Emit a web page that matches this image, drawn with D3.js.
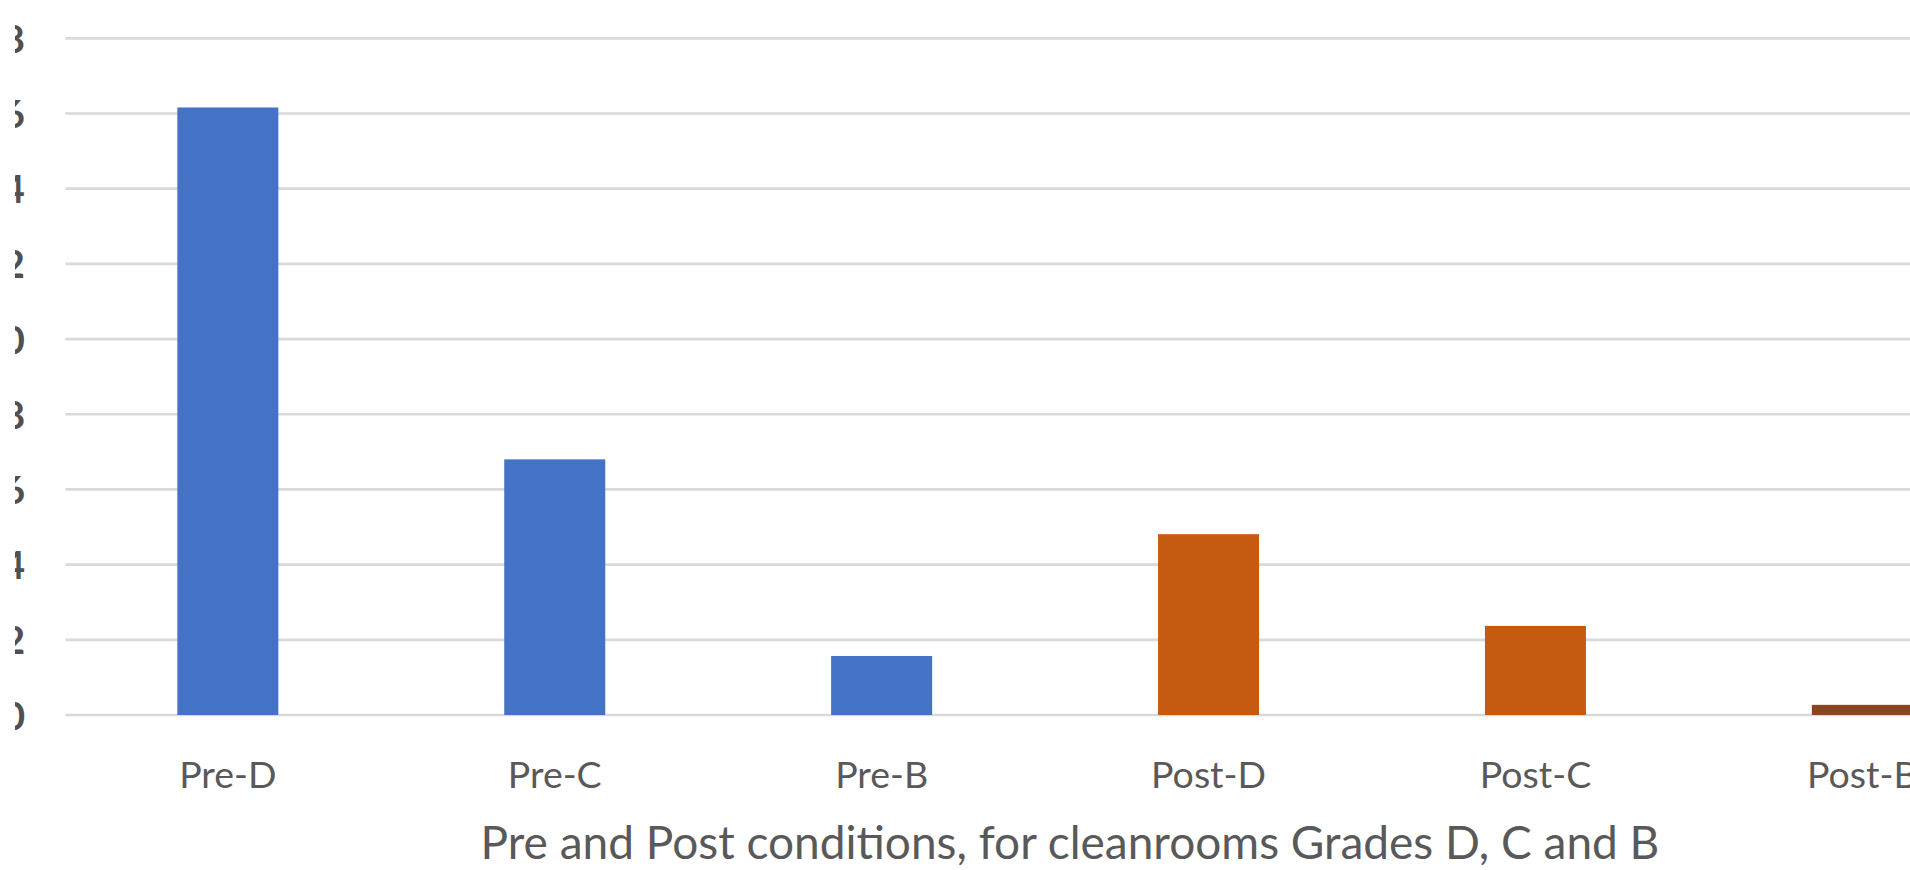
<!DOCTYPE html>
<html>
<head>
<meta charset="utf-8">
<script src="https://cdn.jsdelivr.net/npm/d3@7"></script>
<style>
  html, body { margin: 0; padding: 0; background: #ffffff; overflow: hidden; }
  svg { display: block; }
</style>
</head>
<body>
<svg id="chart" width="1910" height="870"></svg>
<script>
// ---- data ----
const categories = ["Pre-D", "Pre-C", "Pre-B", "Post-D", "Post-C", "Post-B"];
const values = [16.16, 6.80, 1.57, 4.81, 2.37, 0.27];
const barColors = ["#4472C4", "#4472C4", "#4472C4", "#C55A11", "#C55A11", "#8A4522"];
const yTicks = [0, 2, 4, 6, 8, 10, 12, 14, 16, 18];
const xTitle = "Pre and Post conditions, for cleanrooms Grades D, C and B";

// ---- layout ----
const W = 1910, H = 870;
const plot = { left: 64.4, right: 2025.8, top: 38.3, bottom: 715 };
const font = "Lato, 'Open Sans', sans-serif";
const textColor = "#595959";

const svg = d3.select("#chart");

const x = d3.scaleBand()
  .domain(categories)
  .range([plot.left, plot.right])
  .paddingInner(0.691)
  .paddingOuter(0.3455);

const y = d3.scaleLinear()
  .domain([0, 18])
  .range([plot.bottom, plot.top]);

// gridlines
svg.append("g")
  .selectAll("line")
  .data(yTicks)
  .join("line")
  .attr("x1", plot.left + 1)
  .attr("x2", W + 10)
  .attr("y1", d => y(d))
  .attr("y2", d => y(d))
  .attr("stroke", "#d9d9d9")
  .attr("stroke-width", 2.7);

// bars
svg.append("g")
  .selectAll("rect")
  .data(categories)
  .join("rect")
  .attr("x", d => x(d))
  .attr("width", x.bandwidth())
  .attr("y", (d, i) => y(values[i]))
  .attr("height", (d, i) => y(0) - y(values[i]))
  .attr("fill", (d, i) => barColors[i]);

// y-axis labels (clipped at left edge, as in the source image)
const yAxis = d3.axisLeft(y).tickValues(yTicks).tickSize(0).tickPadding(0);
const yg = svg.append("g")
  .attr("transform", "translate(25,0)")
  .call(yAxis);
yg.select(".domain").remove();
yg.selectAll("text")
  .attr("font-family", font)
  .attr("font-size", 39)
  .attr("font-weight", 700)
  .attr("fill", "#505050")
  .attr("dy", "0.36em");
svg.append("rect")
  .attr("x", 0).attr("y", 0)
  .attr("width", 15).attr("height", H)
  .attr("fill", "#ffffff");

// x-axis category labels
const xAxis = d3.axisBottom(x).tickSize(0).tickPadding(0);
const xg = svg.append("g")
  .attr("transform", `translate(0,${plot.bottom})`)
  .call(xAxis);
xg.select(".domain").remove();
xg.selectAll("text")
  .attr("font-family", font)
  .attr("font-size", 37.5)
  .attr("fill", textColor)
  .attr("dy", null)
  .attr("y", 73);

// x-axis title
svg.append("text")
  .attr("x", 1070)
  .attr("y", 859)
  .attr("text-anchor", "middle")
  .attr("font-family", font)
  .attr("font-size", 46)
  .attr("fill", textColor)
  .text(xTitle);
</script>
</body>
</html>
